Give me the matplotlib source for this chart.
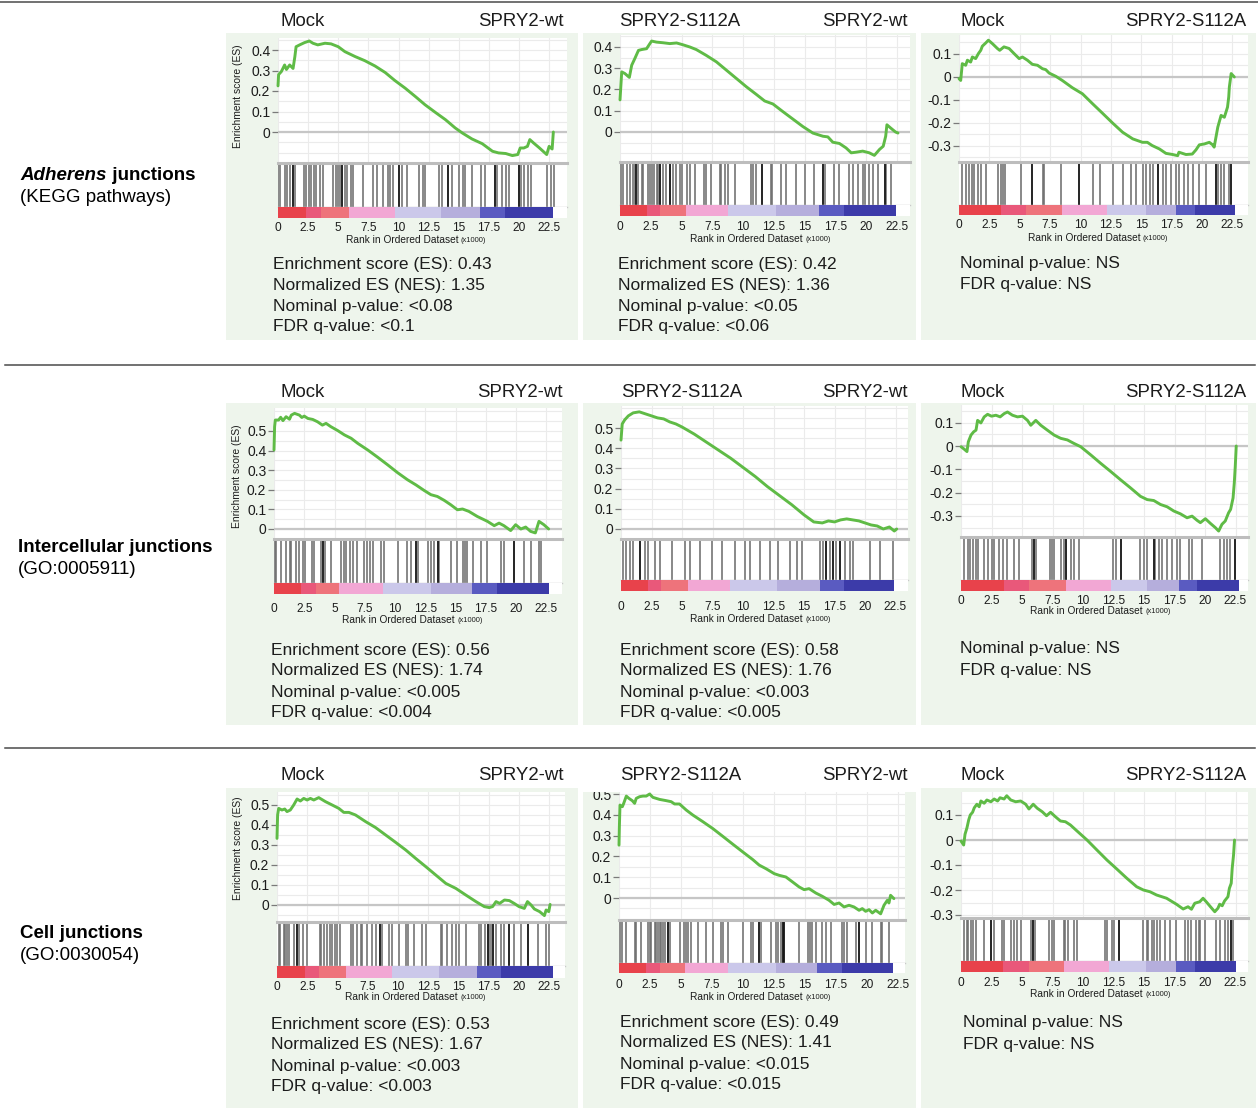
import numpy as np
import matplotlib
matplotlib.use("Agg")
import matplotlib.pyplot as plt
from matplotlib.patches import Rectangle

plt.rcParams['font.family'] = ['Liberation Sans', 'DejaVu Sans']
plt.rcParams['axes.unicode_minus'] = False

W, H = 1258, 1115

# ----------------------------------------------------------------- data
ROW_TITLES = [("Adherens", " junctions", "(KEGG pathways)"),
              ("", "Intercellular junctions", "(GO:0005911)"),
              ("", "Cell junctions", "(GO:0030054)")]
PAIR_TITLES = [("Mock", "SPRY2-wt"), ("SPRY2-S112A", "SPRY2-wt"), ("Mock", "SPRY2-S112A")]

XTICKS = [0, 2.5, 5, 7.5, 10, 12.5, 15, 17.5, 20, 22.5]
XTICK_LABELS = ["0", "2.5", "5", "7.5", "10", "12.5", "15", "17.5", "20", "22.5"]
YTICKS_POS = [0, 0.1, 0.2, 0.3, 0.4]
YTICKS_POS5 = [0, 0.1, 0.2, 0.3, 0.4, 0.5]
YTICKS_NEG = [-0.3, -0.2, -0.1, 0, 0.1]

STATS = {
    (0, 0): ["Enrichment score (ES): 0.43", "Normalized ES (NES): 1.35", "Nominal p-value: <0.08", "FDR q-value: <0.1"],
    (0, 1): ["Enrichment score (ES): 0.42", "Normalized ES (NES): 1.36", "Nominal p-value: <0.05", "FDR q-value: <0.06"],
    (0, 2): ["Nominal p-value: NS", "FDR q-value: NS"],
    (1, 0): ["Enrichment score (ES): 0.56", "Normalized ES (NES): 1.74", "Nominal p-value: <0.005", "FDR q-value: <0.004"],
    (1, 1): ["Enrichment score (ES): 0.58", "Normalized ES (NES): 1.76", "Nominal p-value: <0.003", "FDR q-value: <0.005"],
    (1, 2): ["Nominal p-value: NS", "FDR q-value: NS"],
    (2, 0): ["Enrichment score (ES): 0.53", "Normalized ES (NES): 1.67", "Nominal p-value: <0.003", "FDR q-value: <0.003"],
    (2, 1): ["Enrichment score (ES): 0.49", "Normalized ES (NES): 1.41", "Nominal p-value: <0.015", "FDR q-value: <0.015"],
    (2, 2): ["Nominal p-value: NS", "FDR q-value: NS"],
}

# running enrichment score: (rank x1000, ES)
ES_R1C1 = [(0, 0.225), (0.05, 0.28), (0.28, 0.295), (0.55, 0.327), (0.7, 0.305), (0.97, 0.327), (1.25, 0.31),
           (1.4, 0.368), (1.5, 0.416), (1.8, 0.425), (2.2, 0.436), (2.6, 0.444), (2.9, 0.433), (3.3, 0.425),
           (3.9, 0.433), (4.4, 0.43), (5.0, 0.416), (5.55, 0.392), (6.4, 0.368), (7.2, 0.348), (8.05, 0.322),
           (8.9, 0.29), (9.7, 0.251), (10.55, 0.214), (11.4, 0.173), (12.2, 0.133), (13.05, 0.096), (13.9, 0.06),
           (14.7, 0.02), (15.3, -0.005), (16.1, -0.034), (16.95, -0.057), (17.8, -0.094), (18.3, -0.102),
           (18.9, -0.105), (19.45, -0.115), (19.9, -0.11), (20.1, -0.078), (20.4, -0.078), (20.7, -0.07),
           (20.9, -0.037), (21.2, -0.053), (21.7, -0.078), (22.3, -0.11), (22.5, -0.07), (22.75, -0.083), (22.85, 0.0)]
ES_R1C2 = [(0, 0.151), (0.14, 0.283), (0.4, 0.275), (0.76, 0.257), (0.95, 0.314), (1.2, 0.345), (1.5, 0.384),
           (1.76, 0.388), (2.16, 0.392), (2.43, 0.416), (2.57, 0.428), (2.97, 0.423), (3.5, 0.42), (4.05, 0.416),
           (4.6, 0.419), (5.14, 0.41), (5.68, 0.4), (6.2, 0.388), (7.0, 0.361), (7.84, 0.33), (8.65, 0.291),
           (9.46, 0.252), (10.27, 0.213), (11.08, 0.177), (11.76, 0.146), (12.43, 0.132), (13.24, 0.096),
           (14.05, 0.061), (14.86, 0.026), (15.68, -0.005), (16.5, -0.02), (16.9, -0.023), (17.3, -0.048),
           (17.84, -0.054), (18.38, -0.075), (18.8, -0.098), (19.2, -0.095), (19.73, -0.09), (20.27, -0.098),
           (20.68, -0.11), (21.1, -0.082), (21.4, -0.067), (21.6, -0.02), (21.7, 0.034), (22.0, 0.019),
           (22.4, 0.0), (22.6, -0.005)]
ES_R1C3 = [(0, -0.007), (0.14, -0.015), (0.27, 0.058), (0.55, 0.051), (0.69, 0.073), (0.96, 0.065), (1.1, 0.087),
           (1.37, 0.08), (1.6, 0.102), (1.79, 0.116), (1.92, 0.134), (2.2, 0.148), (2.42, 0.16), (2.75, 0.145),
           (3.16, 0.124), (3.35, 0.116), (3.7, 0.131), (4.12, 0.124), (4.53, 0.102), (4.95, 0.08), (5.22, 0.087),
           (5.63, 0.073), (6.04, 0.055), (6.46, 0.051), (6.87, 0.036), (7.14, 0.032), (7.42, 0.017), (7.97, 0.003),
           (8.5, -0.015), (9.34, -0.047), (10.16, -0.073), (10.99, -0.116), (11.8, -0.157), (12.64, -0.2),
           (13.46, -0.24), (14.3, -0.269), (15.1, -0.284), (15.5, -0.284), (15.9, -0.298), (16.5, -0.313),
           (17.03, -0.332), (17.58, -0.337), (18.0, -0.342), (18.1, -0.327), (18.68, -0.337), (19.2, -0.335),
           (19.5, -0.317), (19.78, -0.295), (20.2, -0.291), (20.6, -0.284), (20.88, -0.295), (21.0, -0.305),
           (21.3, -0.218), (21.57, -0.167), (21.84, -0.175), (22.1, -0.131), (22.2, -0.087), (22.25, -0.044),
           (22.4, 0.015), (22.66, 0.0)]
ES_R2C1 = [(0, 0.403), (0.05, 0.522), (0.11, 0.556), (0.38, 0.556), (0.55, 0.57), (0.74, 0.553), (1.0, 0.573),
           (1.28, 0.56), (1.43, 0.581), (1.7, 0.59), (2.1, 0.581), (2.3, 0.569), (2.5, 0.576), (2.8, 0.564),
           (3.2, 0.559), (3.6, 0.547), (4.0, 0.53), (4.3, 0.539), (4.7, 0.522), (5.27, 0.502), (5.82, 0.48),
           (6.37, 0.463), (6.92, 0.437), (7.75, 0.403), (8.57, 0.366), (9.4, 0.327), (10.2, 0.288), (11.04, 0.251),
           (11.73, 0.225), (12.4, 0.197), (12.97, 0.175), (13.5, 0.166), (14.07, 0.146), (14.6, 0.124),
           (15.16, 0.098), (15.58, 0.102), (16.1, 0.09), (16.8, 0.064), (17.64, 0.039), (18.2, 0.017), (18.6, 0.03),
           (19.0, 0.017), (19.56, -0.008), (19.97, 0.022), (20.4, 0.0), (20.8, 0.01), (21.2, -0.012), (21.6, -0.02),
           (21.9, 0.039), (22.3, 0.022), (22.7, 0.0)]
ES_R2C2 = [(0, 0.44), (0.1, 0.52), (0.3, 0.54), (0.6, 0.56), (1.0, 0.575), (1.5, 0.58), (2.0, 0.57), (2.5, 0.56),
           (3.0, 0.55), (3.5, 0.545), (4.0, 0.53), (4.5, 0.52), (5.0, 0.505), (6.0, 0.47), (7.0, 0.43), (8.0, 0.39),
           (9.0, 0.35), (10.0, 0.305), (11.0, 0.26), (12.0, 0.21), (13.0, 0.165), (14.0, 0.12), (15.0, 0.07),
           (15.8, 0.035), (16.5, 0.03), (17.0, 0.04), (17.5, 0.035), (18.0, 0.045), (18.5, 0.05), (19.0, 0.045),
           (19.5, 0.04), (20.0, 0.03), (20.5, 0.02), (21.0, 0.015), (21.5, 0.0), (22.0, 0.01), (22.4, -0.01),
           (22.6, 0.0)]
ES_R2C3 = [(0, -0.003), (0.27, -0.014), (0.49, -0.024), (0.6, 0.018), (0.82, 0.047), (1.04, 0.061), (1.23, 0.068),
           (1.36, 0.11), (1.63, 0.099), (1.9, 0.125), (2.18, 0.136), (2.5, 0.128), (2.86, 0.132), (3.21, 0.125),
           (3.54, 0.139), (3.81, 0.146), (4.22, 0.132), (4.63, 0.125), (5.04, 0.128), (5.45, 0.11), (5.72, 0.089),
           (6.13, 0.11), (6.54, 0.089), (7.08, 0.068), (7.63, 0.047), (8.17, 0.033), (8.72, 0.026), (9.26, 0.011),
           (9.81, -0.003), (10.63, -0.038), (11.44, -0.074), (12.26, -0.109), (13.08, -0.145), (13.9, -0.18),
           (14.71, -0.216), (15.26, -0.23), (15.8, -0.234), (16.35, -0.251), (16.9, -0.261), (17.44, -0.279),
           (17.98, -0.291), (18.53, -0.308), (18.94, -0.301), (19.35, -0.319), (19.62, -0.329), (20.03, -0.312),
           (20.44, -0.332), (20.84, -0.35), (21.12, -0.365), (21.39, -0.336), (21.66, -0.322), (21.93, -0.287),
           (22.1, -0.272), (22.3, -0.223), (22.4, -0.159), (22.48, -0.088), (22.56, 0.0)]
ES_R3C1 = [(0, 0.333), (0.05, 0.45), (0.14, 0.483), (0.41, 0.475), (0.64, 0.48), (0.83, 0.467), (1.1, 0.475),
           (1.38, 0.5), (1.66, 0.53), (1.93, 0.52), (2.21, 0.533), (2.49, 0.525), (2.76, 0.533), (3.04, 0.525),
           (3.45, 0.537), (4.0, 0.517), (4.56, 0.5), (5.11, 0.483), (5.52, 0.463), (5.94, 0.463), (6.49, 0.45),
           (7.32, 0.417), (8.15, 0.387), (8.98, 0.35), (9.81, 0.313), (10.64, 0.275), (11.46, 0.233),
           (12.29, 0.192), (13.12, 0.15), (13.95, 0.108), (14.78, 0.083), (15.6, 0.05), (16.44, 0.017),
           (17.13, -0.008), (17.54, -0.013), (17.82, -0.008), (18.1, 0.017), (18.4, 0.008), (18.8, 0.025),
           (19.2, 0.022), (19.6, 0.008), (20.0, -0.008), (20.44, -0.017), (20.7, 0.017), (21.0, 0.0),
           (21.27, -0.02), (21.7, -0.033), (22.1, -0.053), (22.24, -0.025), (22.46, -0.033), (22.57, 0.003)]
ES_R3C2 = [(0, 0.254), (0.03, 0.342), (0.08, 0.447), (0.27, 0.439), (0.38, 0.455), (0.59, 0.49), (0.8, 0.479),
           (1.07, 0.468), (1.26, 0.455), (1.39, 0.479), (1.66, 0.487), (1.93, 0.49), (2.2, 0.49), (2.47, 0.5),
           (2.73, 0.484), (3.27, 0.474), (3.81, 0.468), (4.21, 0.463), (4.48, 0.452), (4.88, 0.452), (5.42, 0.423),
           (5.95, 0.399), (6.76, 0.367), (7.56, 0.334), (8.36, 0.297), (9.17, 0.259), (9.97, 0.222),
           (10.78, 0.185), (11.31, 0.158), (11.85, 0.141), (12.52, 0.117), (12.92, 0.109), (13.46, 0.101),
           (14.0, 0.077), (14.53, 0.053), (14.93, 0.04), (15.33, 0.045), (15.87, 0.024), (16.4, 0.008),
           (16.94, -0.011), (17.35, -0.031), (17.75, -0.024), (18.15, -0.043), (18.55, -0.035), (18.95, -0.043),
           (19.36, -0.059), (19.62, -0.051), (19.89, -0.064), (20.16, -0.056), (20.43, -0.072), (20.7, -0.059),
           (21.1, -0.076), (21.37, -0.035), (21.64, -0.011), (21.77, -0.024), (21.9, 0.013), (22.17, -0.003)]
ES_R3C3 = [(0, -0.004), (0.22, -0.02), (0.33, 0.023), (0.49, 0.049), (0.63, 0.08), (0.76, 0.1), (0.95, 0.111),
           (1.09, 0.129), (1.3, 0.143), (1.49, 0.133), (1.63, 0.156), (1.9, 0.147), (2.12, 0.16), (2.45, 0.153),
           (2.72, 0.164), (3.0, 0.156), (3.2, 0.169), (3.53, 0.164), (3.75, 0.177), (4.08, 0.16), (4.48, 0.153),
           (4.89, 0.156), (5.3, 0.143), (5.57, 0.124), (5.92, 0.143), (6.25, 0.127), (6.66, 0.113), (7.01, 0.097),
           (7.34, 0.111), (7.74, 0.093), (8.15, 0.076), (8.56, 0.073), (8.97, 0.06), (9.51, 0.036), (10.33, 0.0),
           (11.14, -0.04), (11.96, -0.08), (12.77, -0.116), (13.59, -0.153), (14.4, -0.187), (14.95, -0.2),
           (15.49, -0.207), (16.03, -0.22), (16.85, -0.233), (17.66, -0.257), (18.21, -0.276), (18.61, -0.267),
           (18.89, -0.277), (19.16, -0.253), (19.57, -0.247), (19.84, -0.233), (20.1, -0.247), (20.5, -0.27),
           (20.8, -0.287), (21.06, -0.273), (21.2, -0.257), (21.41, -0.263), (21.6, -0.244), (21.88, -0.227),
           (22.0, -0.193), (22.15, -0.173), (22.23, -0.113), (22.34, -0.06), (22.42, 0.0)]

# gene-set hits (rank x1000) and the darker ones
HITS_R1C1 = [0, 0.14, 0.56, 0.78, 0.97, 1.25, 1.44, 2.14, 2.36, 2.58, 2.78, 3.0, 3.19, 3.47, 3.75, 4.58, 4.78,
             5.0, 5.14, 5.33, 5.56, 5.69, 6.06, 6.25, 7.03, 7.92, 8.19, 8.69, 9.11, 9.31, 9.58, 10.0, 10.28,
             10.69, 11.67, 12.0, 12.22, 13.33, 13.61, 14.08, 14.44, 15.0, 15.33, 15.56, 16.11, 16.81, 17.17,
             18.0, 18.19, 18.61, 18.89, 19.17, 20.0, 20.14, 20.42, 20.78, 21.0, 22.36, 22.64, 22.92]
DARK_R1C1 = [10.0, 14.08, 18.0, 20.0, 1.25, 5.33]
HITS_R1C2 = [0.05, 0.27, 0.54, 0.81, 1.08, 1.22, 1.3, 1.49, 1.76, 1.89, 2.3, 2.43, 2.57, 2.76, 2.97, 3.11, 3.24,
             3.46, 3.78, 4.05, 4.27, 4.59, 4.86, 5.0, 5.41, 5.68, 6.08, 6.81, 7.03, 7.43, 8.11, 8.24, 8.51, 8.78,
             9.32, 10.68, 10.81, 11.08, 11.57, 12.3, 12.38, 13.11, 13.51, 14.32, 15.0, 15.81, 16.49, 16.7, 17.38,
             17.84, 18.59, 18.92, 19.32, 19.73, 19.95, 20.27, 20.54, 20.95, 21.57, 21.62, 22.03]
DARK_R1C2 = [1.3, 4.05, 11.57, 21.57, 3.24, 16.49]
HITS_R1C3 = [0.27, 0.55, 0.82, 1.1, 1.24, 1.59, 1.79, 2.2, 3.24, 3.43, 3.63, 3.79, 5.08, 6.04, 6.92, 7.0, 8.38,
             9.89, 10.99, 11.59, 12.64, 13.46, 14.15, 14.56, 15.11, 15.38, 15.71, 15.93, 16.35, 16.76, 17.03,
             17.45, 17.86, 18.13, 18.54, 18.82, 19.23, 19.73, 20.33, 21.15, 21.29, 21.57, 21.84, 22.25, 22.39]
DARK_R1C3 = [16.35, 22.39, 6.04, 9.89, 21.15]
HITS_R2C1 = [0.05, 0.19, 0.6, 1.02, 1.29, 1.43, 1.84, 2.03, 2.39, 2.53, 3.13, 3.3, 3.9, 4.04, 4.18, 4.73, 5.55,
             5.77, 5.96, 6.24, 6.51, 6.87, 7.47, 7.69, 7.97, 8.16, 8.85, 9.12, 10.22, 11.0, 11.32, 11.73, 11.87,
             12.75, 12.97, 13.19, 13.52, 13.65, 14.62, 15.16, 15.66, 15.77, 15.99, 16.48, 17.09, 17.64, 18.74,
             19.01, 19.84, 20.66, 21.21, 21.9, 22.03]
DARK_R2C1 = [11.73, 13.52, 4.04, 19.84]
HITS_R2C2 = [0.16, 0.41, 0.74, 0.98, 1.56, 1.97, 2.21, 2.79, 3.2, 4.18, 5.25, 5.66, 6.48, 7.46, 8.28, 9.34, 10.16,
             10.57, 11.39, 12.21, 12.87, 13.85, 14.43, 14.84, 16.31, 16.56, 16.8, 17.13, 17.38, 17.62, 17.95,
             18.36, 18.77, 19.02, 20.41, 21.23, 22.3]
DARK_R2C2 = [16.8, 17.38, 17.95, 1.56]
HITS_R2C3 = [0.27, 0.54, 0.76, 0.95, 1.23, 1.42, 1.91, 2.23, 2.51, 2.72, 3.13, 3.41, 3.81, 4.36, 4.77, 5.86, 6.0,
             6.13, 7.3, 7.49, 7.63, 8.17, 8.45, 8.58, 8.99, 9.26, 9.67, 12.48, 12.67, 13.08, 14.71, 14.99, 15.26,
             15.8, 15.94, 16.21, 16.49, 16.89, 17.3, 17.71, 17.98, 18.66, 18.94, 19.75, 21.25, 21.53, 21.8, 22.07,
             22.48]
DARK_R2C3 = [8.58, 13.08, 15.8, 22.48, 6.0]
HITS_R3C1 = [0.14, 0.28, 0.55, 0.69, 0.83, 0.97, 1.38, 1.66, 1.85, 2.13, 2.49, 3.54, 3.67, 3.87, 4.14, 4.34, 4.56,
             4.83, 4.97, 5.17, 6.08, 6.3, 6.63, 6.91, 7.04, 7.46, 7.87, 8.2, 8.48, 8.7, 9.25, 9.53, 10.08, 10.64,
             10.86, 11.33, 12.02, 12.29, 13.54, 13.67, 14.09, 14.5, 14.78, 15.06, 15.61, 16.71, 16.85, 17.21,
             17.4, 17.54, 17.68, 17.82, 18.09, 18.51, 18.78, 19.14, 19.61, 20.17, 20.72, 21.55, 22.24, 22.51]
DARK_R3C1 = [17.4, 17.82, 19.14, 20.72, 1.66, 8.48]
HITS_R3C2 = [0.11, 0.27, 0.59, 1.26, 1.39, 1.8, 2.33, 2.47, 2.6, 2.87, 3.0, 3.14, 3.27, 3.4, 3.54, 3.67, 3.94, 4.08,
             4.88, 5.28, 5.42, 5.55, 5.82, 6.35, 7.03, 7.56, 8.23, 8.36, 8.77, 9.97, 10.64, 10.78, 11.31, 11.45,
             12.25, 12.65, 12.79, 13.06, 13.19, 13.32, 14.53, 15.28, 15.39, 15.6, 15.87, 16.35, 16.68, 17.08,
             18.02, 18.15, 18.42, 19.09, 19.36, 19.89, 20.43, 21.1, 21.23, 21.77]
DARK_R3C2 = [11.31, 13.19, 13.32, 3.94, 19.36]
HITS_R3C3 = [0.27, 0.49, 0.6, 0.82, 0.95, 1.22, 1.9, 2.45, 2.72, 3.4, 3.53, 4.08, 4.35, 4.62, 4.89, 5.76, 5.92,
             6.03, 7.2, 7.47, 7.61, 8.42, 8.56, 8.75, 9.24, 9.51, 11.82, 11.96, 12.36, 12.5, 12.91, 14.95, 15.22,
             15.35, 15.63, 15.82, 16.03, 16.3, 16.71, 17.12, 17.66, 18.34, 18.61, 18.89, 19.29, 19.51, 19.62,
             19.97, 20.92, 21.2, 21.6, 21.88, 22.15, 22.28]
DARK_R3C3 = [12.91, 22.15, 5.92, 2.45]

# ranked-list colour bar: block boundaries (rank x1000)
BAR_COLORS = ['#e8424b', '#e9587a', '#ee737b', '#f2a7d4', '#cbc8ea', '#b5aedc', '#5a5bc1', '#3c3ba9']
BAR_R1C1 = [0, 2.3, 3.55, 5.9, 9.7, 13.55, 16.75, 18.8, 22.8]
BAR_R1C2 = [0, 2.16, 3.24, 5.35, 8.78, 12.7, 16.2, 18.2, 22.4]
BAR_R1C3 = [0, 3.43, 5.49, 8.46, 12.2, 15.4, 17.9, 19.4, 22.7]
BAR_R2C1 = [0, 2.25, 3.49, 5.41, 8.98, 12.97, 16.4, 18.46, 22.7]
BAR_R2C2 = [0, 2.2, 3.3, 5.5, 8.9, 12.8, 16.3, 18.3, 22.4]
BAR_R2C3 = [0, 3.54, 5.59, 8.58, 12.26, 15.26, 17.85, 19.35, 22.75]
BAR_R3C1 = [0, 2.29, 3.45, 5.72, 9.53, 13.4, 16.5, 18.5, 22.8]
BAR_R3C2 = [0, 2.2, 3.27, 5.36, 8.77, 12.65, 16.0, 18.0, 22.1]
BAR_R3C3 = [0, 3.48, 5.57, 8.42, 12.1, 15.2, 17.66, 19.16, 22.5]

PANELS = {
    (0, 0): (ES_R1C1, HITS_R1C1, DARK_R1C1, BAR_R1C1, YTICKS_POS),
    (0, 1): (ES_R1C2, HITS_R1C2, DARK_R1C2, BAR_R1C2, YTICKS_POS),
    (0, 2): (ES_R1C3, HITS_R1C3, DARK_R1C3, BAR_R1C3, YTICKS_NEG),
    (1, 0): (ES_R2C1, HITS_R2C1, DARK_R2C1, BAR_R2C1, YTICKS_POS5),
    (1, 1): (ES_R2C2, HITS_R2C2, DARK_R2C2, BAR_R2C2, YTICKS_POS5),
    (1, 2): (ES_R2C3, HITS_R2C3, DARK_R2C3, BAR_R2C3, YTICKS_NEG),
    (2, 0): (ES_R3C1, HITS_R3C1, DARK_R3C1, BAR_R3C1, YTICKS_POS5),
    (2, 1): (ES_R3C2, HITS_R3C2, DARK_R3C2, BAR_R3C2, YTICKS_POS5),
    (2, 2): (ES_R3C3, HITS_R3C3, DARK_R3C3, BAR_R3C3, YTICKS_NEG),
}

# ----------------------------------------------------------------- layout (pixels)
GEOM = {
    (0, 0): dict(x0=278, ppk=12.05, right=567, top=38, zero=132, p01=20.5, hit=163, bt=207, bb=218, ty=227, xl=240),
    (0, 1): dict(x0=620, ppk=12.3, right=910, top=35, zero=132, p01=21.25, hit=162, bt=205, bb=216, ty=226, xl=239),
    (0, 2): dict(x0=959, ppk=12.15, right=1248, top=35, zero=77, p01=23.0, hit=162, bt=205, bb=215, ty=224, xl=238),
    (1, 0): dict(x0=274, ppk=12.1, right=562, top=408, zero=529, p01=19.6, hit=539, bt=583, bb=594, ty=607, xl=620),
    (1, 1): dict(x0=621, ppk=12.2, right=908, top=406, zero=529, p01=20.2, hit=539, bt=580, bb=591, ty=606, xl=619),
    (1, 2): dict(x0=961, ppk=12.2, right=1248, top=405, zero=446, p01=23.3, hit=537, bt=580, bb=591, ty=600, xl=611),
    (2, 0): dict(x0=277, ppk=12.1, right=565, top=792, zero=905, p01=20.0, hit=922, bt=966, bb=978, ty=985, xl=997),
    (2, 1): dict(x0=619, ppk=12.4, right=905, top=792, zero=898, p01=20.8, hit=920, bt=963, bb=973, ty=983, xl=997),
    (2, 2): dict(x0=961, ppk=12.2, right=1248, top=792, zero=840, p01=25.0, hit=918, bt=961, bb=972, ty=982, xl=994),
}
BG_ROWS = [(33, 340), (403, 725), (788, 1108)]
BG_COLS = [(226, 578), (583, 916), (921, 1256)]
TITLE_Y = [22, 392, 775]
TITLE_X = {(0, 0): (281, 564), (0, 1): (619, 908), (0, 2): (960, 1246),
           (1, 0): (281, 563), (1, 1): (621, 908), (1, 2): (960, 1246),
           (2, 0): (281, 564), (2, 1): (620, 908), (2, 2): (960, 1246)}
STATS_POS = {(0, 0): (273, 264), (0, 1): (618, 264), (0, 2): (960, 263),
             (1, 0): (271, 650), (1, 1): (620, 650), (1, 2): (960, 649),
             (2, 0): (271, 1024), (2, 1): (620, 1022), (2, 2): (963, 1023)}
ROWLAB_POS = [(20, 176), (18, 547), (20, 933)]
YLAB_POS = [(238, 96), (237, 476), (238, 848)]
SEP_LINES = [(2, 0, 1258), (365, 5, 1255), (748, 5, 1255)]

GREEN = '#5fbb46'
BG = '#eef5ec'
TXT = '#1c1c1c'

fig = plt.figure(figsize=(W / 100, H / 100), dpi=100)
fig.patch.set_facecolor('white')


def fxy(x, y):
    return x / W, 1 - y / H


def add_ax(x1, y1, x2, y2, z=1):
    return fig.add_axes([x1 / W, 1 - y2 / H, (x2 - x1) / W, (y2 - y1) / H], zorder=z)


def ftext(x, y, s, **kw):
    fx, fy = fxy(x, y)
    return fig.text(fx, fy, s, **kw)


# separators
for y, xa, xb in SEP_LINES:
    fig.add_artist(plt.Line2D([xa / W, xb / W], [1 - y / H, 1 - y / H], transform=fig.transFigure,
                              color='#4a4a4a', lw=1.1))

# panel backgrounds
for r, (ya, yb) in enumerate(BG_ROWS):
    for c, (xa, xb) in enumerate(BG_COLS):
        top = ya
        if (r, c) == (2, 1):
            top = 792
        fig.add_artist(Rectangle((xa / W, 1 - yb / H), (xb - xa) / W, (yb - top) / H,
                                 transform=fig.transFigure, facecolor=BG, edgecolor='none', zorder=-5))


def yfmt(v):
    return "0" if abs(v) < 1e-9 else ("%.1f" % v)


for (r, c), (es, hits, dark, bar, yt) in PANELS.items():
    g = GEOM[(r, c)]
    xmax = (g['right'] - g['x0']) / g['ppk']
    # --- enrichment score axes
    ax = add_ax(g['x0'], g['top'], g['right'], g['hit'])
    ax.set_facecolor('white')
    for s in ax.spines.values():
        s.set_visible(False)
    ymin = -(g['hit'] - g['zero']) / (g['p01'] * 10)
    ymax = (g['zero'] - g['top']) / (g['p01'] * 10)
    ax.set_xlim(0, xmax)
    ax.set_ylim(ymin, ymax)
    ax.set_xticks(np.arange(0, xmax, 2.5))
    ax.tick_params(axis='x', length=0, labelbottom=False)
    ax.set_yticks(yt)
    ax.set_yticklabels([yfmt(v) for v in yt])
    ax.set_yticks(np.arange(-0.4, 0.65, 0.05), minor=True)
    ax.tick_params(axis='y', which='minor', length=0)
    ax.tick_params(axis='y', which='major', length=4, width=0.9, color='#7a7a7a', pad=1.5,
                   labelsize=10, labelcolor=TXT)
    ax.set_ylim(ymin, ymax)
    ax.grid(True, which='both', color='#ebebeb', lw=0.8)
    ax.set_axisbelow(True)
    ax.axhline(0, color='#c6c6c6', lw=1.6, zorder=2)
    xs = [p[0] for p in es]
    ys = [p[1] for p in es]
    ax.plot(xs, ys, color=GREEN, lw=2.1, solid_joinstyle='round', solid_capstyle='round', zorder=3,
            clip_on=False)

    # --- hits axes
    axh = add_ax(g['x0'], g['hit'], g['right'], g['bt'])
    axh.set_facecolor('white')
    for s in axh.spines.values():
        s.set_visible(False)
    axh.set_xlim(0, xmax)
    axh.set_ylim(0, 1)
    axh.set_xticks([])
    axh.set_yticks([])
    axh.vlines(hits, 0, 1, color='#6e6e6e', lw=1.15)
    axh.vlines(dark, 0, 1, color='#161616', lw=1.2)
    axh.axhline(1, color='#bdbdbd', lw=2.2, clip_on=False, zorder=4)
    axh.axhline(0, color='#c9c9c9', lw=1.0, clip_on=False, zorder=4)

    # --- colour bar of ranked list
    axb = add_ax(g['x0'], g['bt'], g['right'], g['bb'])
    axb.set_facecolor('white')
    for s in axb.spines.values():
        s.set_visible(False)
    axb.set_xlim(0, xmax)
    axb.set_ylim(0, 1)
    lefts = bar[:-1]
    widths = [b - a for a, b in zip(bar[:-1], bar[1:])]
    axb.bar(lefts, [1] * len(lefts), width=widths, align='edge', color=BAR_COLORS, linewidth=0)
    axb.set_yticks([])
    axb.set_xticks(XTICKS)
    axb.set_xticklabels(XTICK_LABELS)
    pad_px = max(g['ty'] - g['bb'] - 4.5, 0.0)
    axb.tick_params(axis='x', length=0, labelsize=8.6, labelcolor=TXT, pad=pad_px * 0.72)

    # x-axis label
    cx = g['x0'] + 11.3 * g['ppk']
    ftext(cx + 44, g['xl'], "Rank in Ordered Dataset", ha='right', va='center', fontsize=7.3, color=TXT)
    ftext(cx + 46.5, g['xl'] + 0.8, "(x1000)", ha='left', va='center', fontsize=5.4, color=TXT)

    # titles
    tl, tr = TITLE_X[(r, c)]
    ftext(tl, TITLE_Y[r], PAIR_TITLES[c][0], ha='left', va='center', fontsize=13.4, color=TXT)
    ftext(tr, TITLE_Y[r], PAIR_TITLES[c][1], ha='right', va='center', fontsize=13.4, color=TXT)

    # stats
    sx, sy = STATS_POS[(r, c)]
    for i, line in enumerate(STATS[(r, c)]):
        ftext(sx, sy + 21 * i, line, ha='left', va='center', fontsize=12.5, color=TXT)

# y-axis label (first column only)
for r, (x, y) in enumerate(YLAB_POS):
    ftext(x, y, "Enrichment score (ES)", rotation=90, ha='center', va='center', fontsize=7.4, color=TXT)

# clipped top tick label in the row 3 / column 2 panel
fig.add_artist(Rectangle((588 / W, 1 - 792 / H), (619 - 588) / W, (792 - 783) / H,
                         transform=fig.transFigure, facecolor='white', edgecolor='none', zorder=20))

# row labels
fig.canvas.draw()
renderer = fig.canvas.get_renderer()
for r, (first, second, sub) in enumerate(ROW_TITLES):
    x, y = ROWLAB_POS[r]
    if first:
        t = ftext(x, y, first, ha='left', va='center', fontsize=13.5, fontweight='bold', fontstyle='italic',
                  color='black')
        bb = t.get_window_extent(renderer)
        ftext(bb.x1 + 0.5, y, second, ha='left', va='center', fontsize=13.5, fontweight='bold', color='black')
    else:
        ftext(x, y, second, ha='left', va='center', fontsize=13.5, fontweight='bold', color='black')
    ftext(x, y + 22, sub, ha='left', va='center', fontsize=13.5, color='black')

fig.savefig("out.png", dpi=100, facecolor='white')
